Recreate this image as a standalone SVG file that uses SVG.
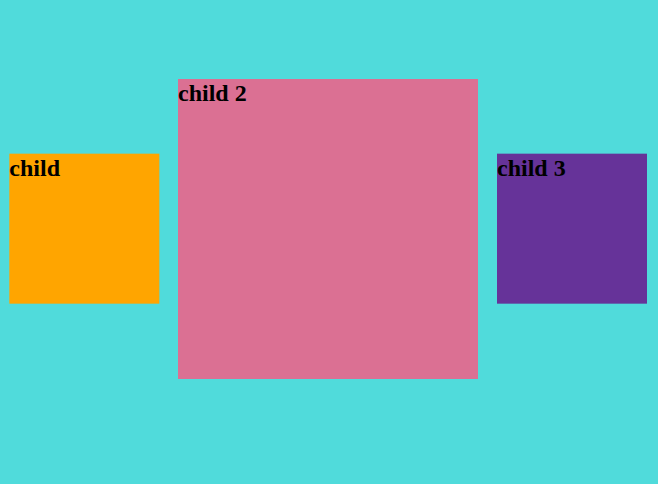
<svg xmlns="http://www.w3.org/2000/svg" width="658" height="484" viewBox="0 0 658 484">
<style>
text{font-family:"Liberation Serif","Times New Roman",serif;font-weight:bold;font-size:24px;fill:#000}
</style>
<rect x="0" y="0" width="658" height="484" fill="#50dbdb"/>
<g id="child1">
<rect x="9.33" y="153.67" width="150" height="150" fill="#ffa500"/>
<text x="9.33" y="175.5">child</text>
</g>
<g id="child2">
<rect x="178" y="79" width="300" height="300" fill="#db7093"/>
<text x="178" y="101">child 2</text>
</g>
<g id="child3">
<rect x="497" y="153.67" width="150" height="150" fill="#663399"/>
<text x="497" y="175.5">child 3</text>
</g>
<g id="connectors"/>
</svg>
